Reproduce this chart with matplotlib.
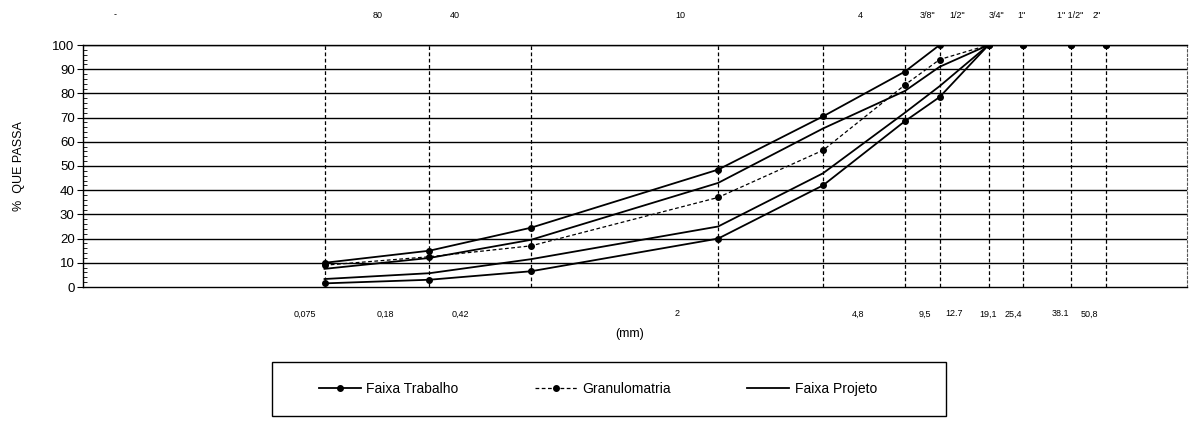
import matplotlib
matplotlib.use("Agg")
import matplotlib.pyplot as plt
from matplotlib.lines import Line2D
from matplotlib.patches import Rectangle
from matplotlib.ticker import MultipleLocator, NullLocator

plt.rcParams['font.family'] = ['Liberation Sans', 'DejaVu Sans']

# ---- data ----
sieves_mm = [0.075, 0.18, 0.42, 2.0, 4.8, 9.5, 12.7, 19.1, 25.4, 38.1, 50.8]
trabalho_sup = [10, 15, 24.5, 48.5, 70.5, 89, 100, 100, 100, 100, 100]
trabalho_inf = [1.5, 3, 6.5, 20, 42, 68.5, 78.5, 100, 100, 100, 100]
granulometria = [9, 12.5, 17, 37, 56.5, 83.5, 94, 100, 100, 100, 100]
projeto_sup = [7.5, 12, 19.5, 43, 65.5, 81, 91, 100, 100, 100, 100]
projeto_inf = [3.3, 5.7, 11.5, 25, 47, 72, 83, 100, 100, 100, 100]

top_labels = ['80', '40', '10', '4', '3/8"', '1/2"', '3/4"', '1"', '1" 1/2"', '2"']
top_label_px = [378, 455, 680, 860, 927, 957, 996, 1021, 1070, 1097]
bottom_labels = ['0,075', '0,18', '0,42', '2', '4,8', '9,5', '12.7', '19,1', '25,4', '38.1', '50,8']
bottom_label_px = [305, 385, 460, 677, 858, 925, 954, 988, 1013, 1060, 1089]

W, H = 1190, 429
fig = plt.figure(figsize=(W / 100, H / 100), dpi=100)
ax = fig.add_axes([83 / W, 1 - 287 / H, (1187 - 83) / W, (287 - 45) / H])

ax.set_xscale('log')
ax.set_xlim(0.01, 100)
ax.set_ylim(0, 100)

# horizontal grid
for v in range(10, 101, 10):
    ax.axhline(v, color='black', lw=1.0, zorder=1)
# vertical dashed sieve lines
for s in sieves_mm:
    ax.axvline(s, color='black', lw=0.9, ls=(0, (3, 2)), zorder=1)

ax.xaxis.set_major_locator(NullLocator())
ax.xaxis.set_minor_locator(NullLocator())
ax.yaxis.set_major_locator(MultipleLocator(10))
ax.yaxis.set_minor_locator(MultipleLocator(2))
ax.tick_params(axis='y', which='major', direction='out', length=4, width=0.8,
               labelsize=9.5, pad=2)
ax.tick_params(axis='y', which='minor', direction='in', length=3, width=0.6)
for sp in ['left', 'bottom', 'top']:
    ax.spines[sp].set_color('black')
    ax.spines[sp].set_linewidth(1.0)
ax.spines['right'].set_color('#555555')
ax.spines['right'].set_linestyle((0, (2, 2)))
ax.spines['right'].set_linewidth(0.8)

# series
ax.plot(sieves_mm, projeto_sup, color='black', lw=1.3, zorder=3)
ax.plot(sieves_mm, projeto_inf, color='black', lw=1.3, zorder=3)
ax.plot(sieves_mm, granulometria, color='black', lw=0.9, ls=(0, (3, 2)),
        marker='o', ms=4, zorder=4)
ax.plot(sieves_mm, trabalho_sup, color='black', lw=1.3, marker='o', ms=4, zorder=4)
ax.plot(sieves_mm, trabalho_inf, color='black', lw=1.3, marker='o', ms=4, zorder=4)

ax.set_ylabel('%  QUE PASSA', fontsize=9, labelpad=20)

# top sieve labels
for lab, px in zip(top_labels, top_label_px):
    fig.text(px / W, 1 - 15 / H, lab, ha='center', va='center', fontsize=6.5)
fig.text(115 / W, 1 - 15 / H, '-', ha='center', va='center', fontsize=6.5)

# bottom size labels
for lab, px in zip(bottom_labels, bottom_label_px):
    fig.text(px / W, 1 - 314 / H, lab, ha='center', va='center', fontsize=6.5)
fig.text(630 / W, 1 - 334 / H, '(mm)', ha='center', va='center', fontsize=9)

# legend frame
fig.patches.append(Rectangle((272 / W, 1 - 416 / H), (946 - 272) / W, 54 / H,
                             transform=fig.transFigure, fill=False,
                             edgecolor='black', linewidth=1.0))
handles = [
    Line2D([], [], color='black', lw=1.3, marker='o', ms=4),
    Line2D([], [], color='black', lw=0.9, ls=(0, (3, 2)), marker='o', ms=4),
    Line2D([], [], color='black', lw=1.3),
]
labels = ['Faixa Trabalho', 'Granulomatria', 'Faixa Projeto']
leg = fig.legend(handles, labels, loc='center', ncol=3,
                 bbox_to_anchor=(598 / W, 1 - 389 / H),
                 frameon=False, fontsize=10,
                 handlelength=3, handletextpad=0.4, columnspacing=5.5)

fig.savefig('out.png', dpi=100)
